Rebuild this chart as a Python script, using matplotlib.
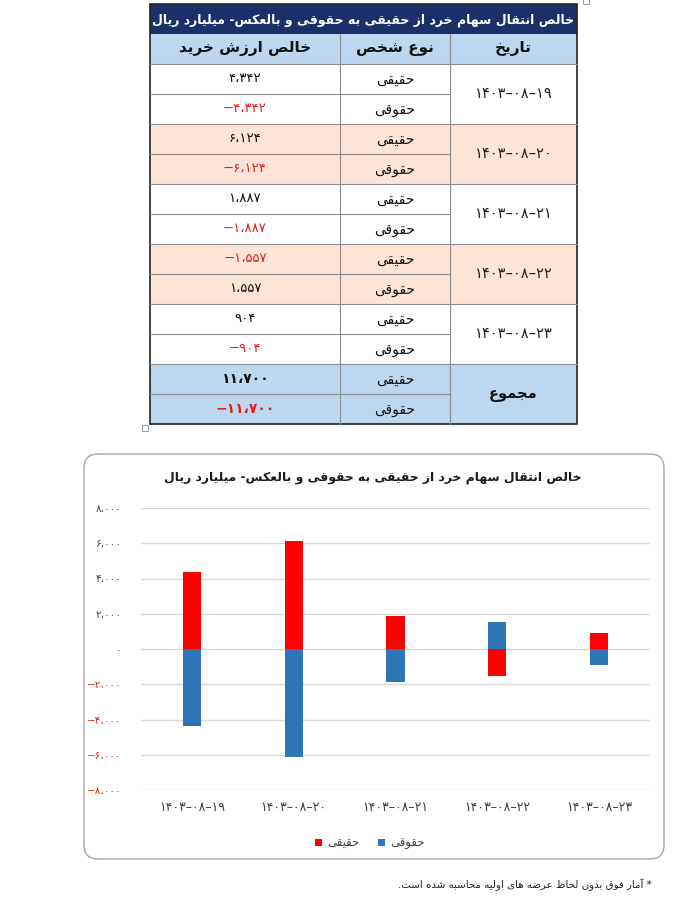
import matplotlib
matplotlib.use("Agg")
import matplotlib.pyplot as plt
import numpy as np
from matplotlib.patches import Rectangle, FancyBboxPatch

plt.rcParams["font.family"] = ["DejaVu Sans"]

# ---------------------------------------------------------------------------
# data
# ---------------------------------------------------------------------------
dates = ["1403-08-19", "1403-08-20", "1403-08-21", "1403-08-22", "1403-08-23"]
real_net = [4342, 6124, 1887, -1557, 904]       # حقیقی
legal_net = [-4342, -6124, -1887, 1557, -904]   # حقوقی
total_real = 11700
total_legal = -11700
yticks = [-8000, -6000, -4000, -2000, 0, 2000, 4000, 6000, 8000]

title = "خالص انتقال سهام خرد از حقیقی به حقوقی و بالعکس- میلیارد ریال"
headers = ["خالص ارزش خرید", "نوع شخص", "تاریخ"]
lbl_real = "حقیقی"
lbl_legal = "حقوقی"
lbl_total = "مجموع"
note = "* آمار فوق بدون لحاظ عرضه های اولیه محاسبه شده است."

# ---------------------------------------------------------------------------
# minimal persian shaping (matplotlib has no bidi / joining)
# ---------------------------------------------------------------------------
DUAL = {
    "ب": 0xFE8F, "پ": 0xFB56, "ت": 0xFE95, "ث": 0xFE99, "ج": 0xFE9D,
    "چ": 0xFB7A, "ح": 0xFEA1, "خ": 0xFEA5, "س": 0xFEB1, "ش": 0xFEB5,
    "ص": 0xFEB9, "ض": 0xFEBD, "ط": 0xFEC1, "ظ": 0xFEC5, "ع": 0xFEC9,
    "غ": 0xFECD, "ف": 0xFED1, "ق": 0xFED5, "ک": 0xFB8E, "گ": 0xFB92,
    "ل": 0xFEDD, "م": 0xFEE1, "ن": 0xFEE5, "ه": 0xFEE9, "ی": 0xFBFC,
}
RIGHT = {
    "ا": 0xFE8D, "آ": 0xFE81, "د": 0xFEA9, "ذ": 0xFEAB, "ر": 0xFEAD,
    "ز": 0xFEAF, "ژ": 0xFB8A, "و": 0xFEED,
}
LAM_ALEF = {"ا": (0xFEFB, 0xFEFC), "آ": (0xFEF5, 0xFEF6)}


def joins(c):
    return c in DUAL or c in RIGHT


def fa(s):
    out = []
    i = 0
    n = len(s)
    while i < n:
        c = s[i]
        prev_j = i > 0 and s[i - 1] in DUAL
        if c == "ل" and i + 1 < n and s[i + 1] in LAM_ALEF:
            iso, fin = LAM_ALEF[s[i + 1]]
            out.append(chr(fin if prev_j else iso))
            i += 2
            continue
        next_j = i + 1 < n and joins(s[i + 1])
        if c in DUAL:
            b = DUAL[c]
            if prev_j and next_j:
                out.append(chr(b + 3))
            elif prev_j:
                out.append(chr(b + 1))
            elif next_j:
                out.append(chr(b + 2))
            else:
                out.append(chr(b))
        elif c in RIGHT:
            b = RIGHT[c]
            out.append(chr(b + 1 if prev_j else b))
        else:
            out.append(c)
        i += 1
    return "".join(out[::-1])


PDIG = str.maketrans("0123456789", "۰۱۲۳۴۵۶۷۸۹")


def fnum(v):
    s = f"{abs(v):,}".replace(",", "،").translate(PDIG)
    return ("−" + s) if v < 0 else s


def fdate(d):
    return d.translate(PDIG).replace("-", "–")


RED_TXT = "#E0201B"
NAVY = "#1B2F6B"
LBLUE = "#BDD7EE"
PEACH = "#FCE4D6"

fig = plt.figure(figsize=(6.97, 9.0), dpi=100)
fig.patch.set_facecolor("white")

# overlay in pixel coordinates for table, frame and text
ov = fig.add_axes([0, 0, 1, 1])
ov.set_xlim(0, 697)
ov.set_ylim(900, 0)
ov.axis("off")

# ---------------------------------------------------------------------------
# table
# ---------------------------------------------------------------------------
x0, x1, x2, x3 = 150, 340, 450, 577
top = 4
rh = 30
cx = [(x0 + x1) / 2, (x1 + x2) / 2, (x2 + x3) / 2]

ov.add_patch(Rectangle((x0, top), x3 - x0, rh, color=NAVY, lw=0))
ov.text((x0 + x3) / 2, top + rh / 2 + 1, fa(title), color="white",
        fontsize=9, fontweight="bold", ha="center", va="center")

y_h = top + rh
ov.add_patch(Rectangle((x0, y_h), x3 - x0, rh, color=LBLUE, lw=0))
for k, h in enumerate(headers):
    ov.text(cx[k], y_h + rh / 2, fa(h), fontsize=11, fontweight="bold",
            ha="center", va="center", color="#111111")

y_d = y_h + rh
fills = ["white", PEACH, "white", PEACH, "white"]
for g, d in enumerate(dates):
    yg = y_d + 2 * rh * g
    ov.add_patch(Rectangle((x0, yg), x3 - x0, 2 * rh, color=fills[g], lw=0))
    ov.text(cx[2], yg + rh, fdate(d), fontsize=10.5, ha="center",
            va="center", color="#222222")
    for r, (lbl, v) in enumerate([(lbl_real, real_net[g]), (lbl_legal, legal_net[g])]):
        yr = yg + rh * r + rh / 2
        ov.text(cx[1], yr + 1, fa(lbl), fontsize=10, ha="center",
                va="center", color="#111111")
        ov.text(cx[0], yr - 1, fnum(v), fontsize=9.5, ha="center",
                va="center", color=RED_TXT if v < 0 else "#111111")
    ov.plot([x0, x2], [yg + rh, yg + rh], color="#8C8C8C", lw=0.8)
    ov.plot([x0, x3], [yg, yg], color="#8C8C8C", lw=0.8)

yt = y_d + 2 * rh * len(dates)
ov.add_patch(Rectangle((x0, yt), x3 - x0, 2 * rh, color=LBLUE, lw=0))
ov.text(cx[2], yt + rh, fa(lbl_total), fontsize=10.5, fontweight="bold",
        ha="center", va="center", color="#111111")
for r, (lbl, v) in enumerate([(lbl_real, total_real), (lbl_legal, total_legal)]):
    yr = yt + rh * r + rh / 2
    ov.text(cx[1], yr + 1, fa(lbl), fontsize=10, ha="center", va="center",
            color="#111111")
    ov.text(cx[0], yr, fnum(v), fontsize=10, fontweight="bold", ha="center",
            va="center", color=RED_TXT if v < 0 else "#111111")
ov.plot([x0, x2], [yt + rh, yt + rh], color="#8C8C8C", lw=0.8)
ov.plot([x0, x3], [yt, yt], color="#8C8C8C", lw=0.8)

ybot = yt + 2 * rh
for xv in (x1, x2):
    ov.plot([xv, xv], [y_h, ybot], color="#8C8C8C", lw=0.8)
ov.add_patch(Rectangle((x0, top), x3 - x0, ybot - top, fill=False,
                       ec="#222222", lw=1.2))

# tiny selection handles
ov.add_patch(Rectangle((583, -1), 6, 5, fill=False, ec="#999999", lw=0.7))
ov.add_patch(Rectangle((142, 425), 6, 6, fill=False, ec="#999999", lw=0.7))

# ---------------------------------------------------------------------------
# chart frame and title
# ---------------------------------------------------------------------------
ov.add_patch(FancyBboxPatch((84, 454), 580, 405,
                            boxstyle="round,pad=0,rounding_size=14",
                            fc="white", ec="#A6A6A6", lw=1.0))
ov.text(373, 477, fa(title), fontsize=8.9, fontweight="bold", ha="center",
        va="center", color="#1A1A1A")

ov.text(652, 885, fa(note), fontsize=7.4, ha="right", va="center",
        color="#222222")

# ---------------------------------------------------------------------------
# bar chart
# ---------------------------------------------------------------------------
W, H = 697, 900
ax = fig.add_axes([141 / W, (H - 790) / H, 509 / W, 282 / H])
ax.set_facecolor("none")
x = np.arange(len(dates))
b1 = ax.bar(x, real_net, width=0.177, color="#FF0000", zorder=3)
b2 = ax.bar(x, legal_net, width=0.177, color="#2E75B6", zorder=3)

ax.set_xlim(-0.5, len(dates) - 0.5)
ax.set_ylim(yticks[0], yticks[-1])
ax.set_yticks(yticks)
ax.set_yticklabels([fnum(v) for v in yticks], fontsize=7.5)
for t, v in zip(ax.get_yticklabels(), yticks):
    t.set_color(RED_TXT if v < 0 else "#404040")
ax.set_xticks(x)
ax.set_xticklabels([fdate(d) for d in dates], fontsize=9, color="#404040")
ax.tick_params(axis="both", length=0)
ax.tick_params(axis="y", pad=14)
ax.tick_params(axis="x", pad=8)
ax.grid(axis="y", color="#D9D9D9", lw=1.0, zorder=0)
for s in ax.spines.values():
    s.set_visible(False)

leg = ax.legend([b1, b2], [fa(lbl_real), fa(lbl_legal)], ncol=2,
                loc="center", bbox_to_anchor=(370 / W, 1 - 843 / H),
                bbox_transform=fig.transFigure, frameon=False, fontsize=8.5,
                handlelength=0.6, handleheight=0.6, handletextpad=0.4,
                columnspacing=1.6)
for t in leg.get_texts():
    t.set_color("#404040")

fig.savefig("out.png", dpi=100)
